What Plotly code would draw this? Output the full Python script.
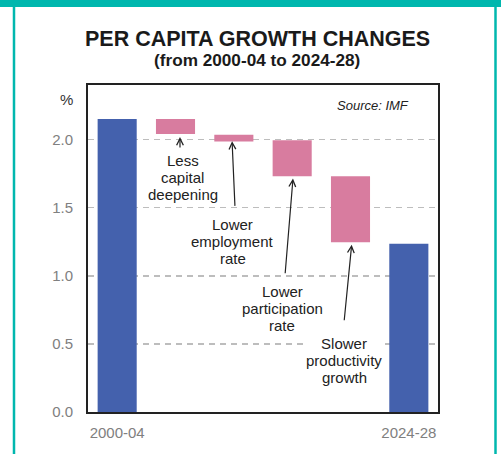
import plotly.graph_objects as go

# ---- data ----
categories = ["2000-04", "Less capital deepening", "Lower employment rate",
              "Lower participation rate", "Slower productivity growth", "2024-28"]
bar_top = [2.15, 2.15, 2.035, 1.995, 1.73, 1.235]
bar_bottom = [0.0, 2.04, 1.985, 1.73, 1.245, 0.0]
bar_kind = ["total", "change", "change", "change", "change", "total"]
y_ticks = [0.0, 0.5, 1.0, 1.5, 2.0]

label_lines = [["Less", "capital", "deepening"],
               ["Lower", "employment", "rate"],
               ["Lower", "participation", "rate"],
               ["Slower", "productivity", "growth"]]
label_x = [1.12, 1.985, 2.834, 3.89]
label_y = [1.846, 1.375, 0.885, 0.505]
arrow_tail = [(1.077, 1.93), (2.02, 1.502), (2.878, 1.007), (3.89, 0.662)]
arrow_tip = [(1.077, 2.018), (1.97, 1.988), (3.014, 1.713), (4.02, 1.228)]

BLUE = "#4461AD"
PINK = "#D87C9F"
TEAL = "#00B7AE"
FONT = "Liberation Sans, Arial, sans-serif"

colors = [BLUE if k == "total" else PINK for k in bar_kind]
heights = [t - b for t, b in zip(bar_top, bar_bottom)]

fig = go.Figure()
fig.add_trace(go.Bar(x=categories, y=heights, base=bar_bottom,
                     marker=dict(color=colors, line=dict(width=0)),
                     hoverinfo="skip"))

W, H = 501, 454
ml, mr, mt, mb = 88, 63, 85, 42
pw, ph = W - ml - mr, H - mt - mb

def px(x):
    return (x - ml) / pw

def py(y):
    return (H - mb - y) / ph

ann = []
ann.append(dict(text="<b>PER CAPITA GROWTH CHANGES</b>", x=px(257.5), y=py(38.7),
                xref="paper", yref="paper", showarrow=False,
                font=dict(family=FONT, size=21.5, color="#1a1a1a"),
                xanchor="center", yanchor="middle"))
ann.append(dict(text="<b>(from 2000-04 to 2024-28)</b>", x=px(257), y=py(60),
                xref="paper", yref="paper", showarrow=False,
                font=dict(family=FONT, size=17.2, color="#1a1a1a"),
                xanchor="center", yanchor="middle"))
ann.append(dict(text="%", x=px(66), y=py(99), xref="paper", yref="paper",
                showarrow=False, font=dict(family=FONT, size=15, color="#333333"),
                xanchor="center", yanchor="middle"))
ann.append(dict(text="<i>Source: IMF</i>", x=px(411), y=py(106), xref="paper",
                yref="paper", showarrow=False,
                font=dict(family=FONT, size=13, color="#222222"),
                xanchor="right", yanchor="middle"))

line_step = 17 / 136.0
for i, lines in enumerate(label_lines):
    for j, t in enumerate(lines):
        a = dict(text=t, x=label_x[i], y=label_y[i] - j * line_step,
                 xref="x", yref="y", showarrow=False,
                 font=dict(family=FONT, size=15, color="#222222"),
                 xanchor="center", yanchor="middle", bgcolor="white",
                 borderpad=0)
        if i == 3 and j == 0:
            a["width"] = 80
        ann.append(a)

for (tx, ty), (hx, hy) in zip(arrow_tail, arrow_tip):
    ann.append(dict(text="", x=hx, y=hy, ax=tx, ay=ty, xref="x", yref="y",
                    axref="x", ayref="y", showarrow=True, arrowhead=5,
                    arrowsize=1.1, arrowwidth=1.2, arrowcolor="#222222",
                    standoff=0, startstandoff=0))

shapes = [
    dict(type="rect", xref="paper", yref="paper", x0=px(0), x1=px(W), y0=py(7), y1=py(0),
         fillcolor=TEAL, line=dict(width=0), layer="above"),
    dict(type="line", xref="paper", yref="paper", x0=px(14), x1=px(14), y0=py(H), y1=py(0),
         line=dict(color=TEAL, width=2.5), layer="above"),
    dict(type="line", xref="paper", yref="paper", x0=px(495.5), x1=px(495.5), y0=py(H), y1=py(0),
         line=dict(color=TEAL, width=2.5), layer="above"),
]

fig.update_layout(
    width=W, height=H,
    margin=dict(l=ml, r=mr, t=mt, b=mb),
    paper_bgcolor="white", plot_bgcolor="white",
    showlegend=False, bargap=0.33,
    font=dict(family=FONT),
    annotations=ann, shapes=shapes,
    xaxis=dict(type="category", categoryorder="array", categoryarray=categories,
               range=[-0.5, len(categories) - 0.5],
               tickvals=[categories[0], categories[-1]],
               showgrid=False, ticks="", showline=True, linewidth=2,
               linecolor="#222222", mirror=True,
               tickfont=dict(family=FONT, size=15, color="#808080"),
               ticklabelstandoff=6),
    yaxis=dict(range=[0, 2.4], tickvals=y_ticks, tickformat=".1f",
               showgrid=True, gridcolor="#BDBDBD", gridwidth=1.5, griddash="6px,5px",
               zeroline=False, ticks="", showline=True, linewidth=2,
               linecolor="#222222", mirror=True,
               tickfont=dict(family=FONT, size=15, color="#808080"),
               ticklabelstandoff=10),
)

fig.write_html("out.html", config={"displayModeBar": False, "staticPlot": True},
               post_script="document.body.style.margin='0';document.body.style.overflow='hidden';")
